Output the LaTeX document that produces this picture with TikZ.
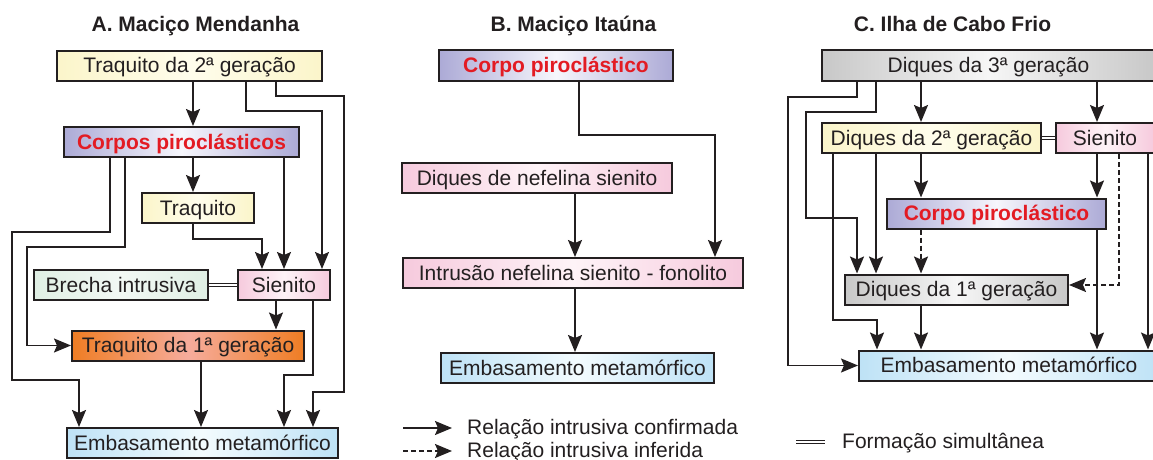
\documentclass[tikz,border=0pt]{standalone}
\usepackage{fontspec}
\setmainfont{Liberation Sans}
\usetikzlibrary{arrows.meta}
\definecolor{inkColor}{RGB}{35,31,32}
\definecolor{redText}{RGB}{227,27,35}
\definecolor{yellowEdge}{RGB}{251,245,202}
\definecolor{yellowCenter}{RGB}{255,253,236}
\definecolor{lavenderEdge}{RGB}{172,170,214}
\definecolor{lavenderCenter}{RGB}{246,246,252}
\definecolor{pinkEdge}{RGB}{246,202,221}
\definecolor{pinkCenter}{RGB}{254,243,247}
\definecolor{greenEdge}{RGB}{224,239,228}
\definecolor{greenCenter}{RGB}{242,248,244}
\definecolor{orangeEdge}{RGB}{239,125,36}
\definecolor{orangeCenter}{RGB}{246,172,156}
\definecolor{blueEdge}{RGB}{190,226,246}
\definecolor{blueCenter}{RGB}{243,251,254}
\definecolor{grayEdge}{RGB}{200,200,200}
\definecolor{grayCenter}{RGB}{246,246,246}
\tikzstyle{plane} = [x = 1pt, y = -1pt]
\tikzstyle{boxStyle} = [draw=inkColor, line width=2pt, minimum height=30pt, inner sep=0pt, text height=18pt, text depth=4pt, text=inkColor, font=\fontsize{21}{25}\selectfont]
\tikzstyle{yellowBox} = [left color=yellowEdge, right color=yellowEdge, middle color=yellowCenter]
\tikzstyle{lavenderBox} = [left color=lavenderEdge, right color=lavenderEdge, middle color=lavenderCenter]
\tikzstyle{pinkBox} = [left color=pinkEdge, right color=pinkEdge, middle color=pinkCenter]
\tikzstyle{greenBox} = [left color=greenEdge, right color=greenEdge, middle color=greenCenter]
\tikzstyle{orangeBox} = [left color=orangeEdge, right color=orangeEdge, middle color=orangeCenter]
\tikzstyle{blueBox} = [left color=blueEdge, right color=blueEdge, middle color=blueCenter]
\tikzstyle{grayBox} = [left color=grayEdge, right color=grayEdge, middle color=grayCenter]
\tikzstyle{pyroText} = [text=redText, font=\fontsize{21}{25}\selectfont\bfseries]
\tikzstyle{titleStyle} = [anchor=base, inner sep=0pt, text=inkColor, font=\fontsize{21}{25}\selectfont\bfseries]
\tikzstyle{legendText} = [anchor=base west, inner sep=0pt, text=inkColor, font=\fontsize{21}{25}\selectfont]
\tikzstyle{linkStyle} = [draw=inkColor, line width=1.7pt, -{Stealth[length=17pt, width=14pt, inset=3pt]}]
\tikzstyle{inferredStyle} = [linkStyle, dash pattern=on 5pt off 3pt]
\tikzstyle{simultaneousStyle} = [draw=inkColor, double=white, line width=1.2pt, double distance=2.4pt]
\newcommand{\unitBox}[6]{\node [boxStyle, #5, minimum width=#4] (#1) at (#2,#3) {#6};}

\begin{document}
\begin{tikzpicture}[plane]
  \useasboundingbox (0,0) rectangle (1153,460);
  \node [titleStyle] (titleA) at (195.5,32) {A. Maciço Mendanha};
  \node [titleStyle] (titleB) at (573.5,32) {B. Maciço Itaúna};
  \node [titleStyle] (titleC) at (952.5,32) {C. Ilha de Cabo Frio};

  % A. Macico Mendanha
  \unitBox{traquitoTwoA}{189.5}{66}{265}{yellowBox}{Traquito da 2ª geração}
  \unitBox{pyroA}{181.5}{142}{235}{lavenderBox, pyroText}{Corpos piroclásticos}
  \unitBox{traquitoA}{198}{208}{112}{yellowBox}{Traquito}
  \unitBox{brechaA}{121}{285}{174}{greenBox}{Brecha intrusiva}
  \unitBox{sienitoA}{284}{285}{92}{pinkBox}{Sienito}
  \unitBox{traquitoOneA}{188}{345.5}{232}{orangeBox}{Traquito da 1ª geração}
  \unitBox{baseA}{202.5}{443}{271}{blueBox}{Embasamento metamórfico}
  \draw [linkStyle] (193,0 |- traquitoTwoA.south) -- (193,0 |- pyroA.north);
  \draw [linkStyle] (246,0 |- traquitoTwoA.south) -- (246,111) -| (322,0 |- sienitoA.north);
  \draw [linkStyle] (276,0 |- traquitoTwoA.south) -- (276,96) -| (344,392) -| (313,0 |- baseA.north);
  \draw [linkStyle] (110,0 |- pyroA.south) -- (110,232) -| (12,380) -| (79,0 |- baseA.north);
  \draw [linkStyle] (125,0 |- pyroA.south) -- (125,247) -| (27,0 |- traquitoOneA.west) -- (traquitoOneA.west);
  \draw [linkStyle] (193,0 |- pyroA.south) -- (193,0 |- traquitoA.north);
  \draw [linkStyle] (sienitoA.north |- pyroA.south) -- (sienitoA.north);
  \draw [linkStyle] (193,0 |- traquitoA.south) -- (193,239) -| (262,0 |- sienitoA.north);
  \draw [simultaneousStyle] (brechaA.east) -- (sienitoA.west);
  \draw [linkStyle] (276,0 |- sienitoA.south) -- (276,0 |- traquitoOneA.north);
  \draw [linkStyle] (313,0 |- sienitoA.south) -- (313,375) -| (284,0 |- baseA.north);
  \draw [linkStyle] (201,0 |- traquitoOneA.south) -- (201,0 |- baseA.north);

  % B. Macico Itauna
  \unitBox{pyroB}{556}{65.5}{234}{lavenderBox, pyroText}{Corpo piroclástico}
  \unitBox{dikesB}{537}{178}{270}{pinkBox}{Diques de nefelina sienito}
  \unitBox{intrusionB}{573}{273}{340}{pinkBox}{Intrusão nefelina sienito - fonolito}
  \unitBox{baseB}{577.5}{368}{273}{blueBox}{Embasamento metamórfico}
  \draw [linkStyle] (579,0 |- pyroB.south) -- (579,135) -| (715,0 |- intrusionB.north);
  \draw [linkStyle] (575,0 |- dikesB.south) -- (575,0 |- intrusionB.north);
  \draw [linkStyle] (575,0 |- intrusionB.south) -- (575,0 |- baseB.north);

  % C. Ilha de Cabo Frio
  \unitBox{dikesThreeC}{988.5}{65.5}{333}{grayBox}{Diques da 3ª geração}
  \unitBox{dikesTwoC}{931.5}{138}{219}{yellowBox}{Diques da 2ª geração}
  \unitBox{sienitoC}{1105}{138}{98}{pinkBox}{Sienito}
  \unitBox{pyroC}{996.5}{213.5}{219}{lavenderBox, pyroText}{Corpo piroclástico}
  \unitBox{dikesOneC}{956.5}{289.5}{223}{grayBox}{Diques da 1ª geração}
  \unitBox{baseC}{1009}{365.5}{300}{blueBox}{Embasamento metamórfico}
  \draw [linkStyle] (857,0 |- dikesThreeC.south) -- (857,97) -| (788,0 |- baseC.west) -- (baseC.west);
  \draw [linkStyle] (876,0 |- dikesThreeC.south) -- (876,112) -| (806,218) -| (857,0 |- dikesOneC.north);
  \draw [linkStyle] (921,0 |- dikesThreeC.south) -- (921,0 |- dikesTwoC.north);
  \draw [linkStyle] (1097,0 |- dikesThreeC.south) -- (1097,0 |- sienitoC.north);
  \draw [simultaneousStyle] (dikesTwoC.east) -- (sienitoC.west);
  \draw [linkStyle] (833,0 |- dikesTwoC.south) -- (833,320) -| (877,0 |- baseC.north);
  \draw [linkStyle] (876,0 |- dikesTwoC.south) -- (876,0 |- dikesOneC.north);
  \draw [linkStyle] (921,0 |- dikesTwoC.south) -- (921,0 |- pyroC.north);
  \draw [linkStyle] (1097,0 |- sienitoC.south) -- (1097,0 |- pyroC.north);
  \draw [inferredStyle] (1119,0 |- sienitoC.south) |- ([yshift=4.5pt]dikesOneC.east);
  \draw [linkStyle] (1148,0 |- sienitoC.south) -- (1148,0 |- baseC.north);
  \draw [inferredStyle] (921,0 |- pyroC.south) -- (921,0 |- dikesOneC.north);
  \draw [linkStyle] (1097,0 |- pyroC.south) -- (1097,0 |- baseC.north);
  \draw [linkStyle] (921,0 |- dikesOneC.south) -- (921,0 |- baseC.north);

  % legend
  \node [legendText] (confirmedText) at (467,434) {Relação intrusiva confirmada};
  \node [legendText] (inferredText) at (467,457) {Relação intrusiva inferida};
  \node [legendText] (simultaneousText) at (842,448) {Formação simultânea};
  \coordinate (confirmedStart) at (403,428);
  \coordinate (inferredStart) at (403,451);
  \coordinate (simultaneousStart) at (796,442);
  \draw [linkStyle, shorten >=15pt] (confirmedStart) -- (confirmedStart -| confirmedText.west);
  \draw [inferredStyle, shorten >=15pt] (inferredStart) -- (inferredStart -| inferredText.west);
  \draw [simultaneousStyle, shorten >=17pt] (simultaneousStart) -- (simultaneousStart -| simultaneousText.west);
\end{tikzpicture}
\end{document}
